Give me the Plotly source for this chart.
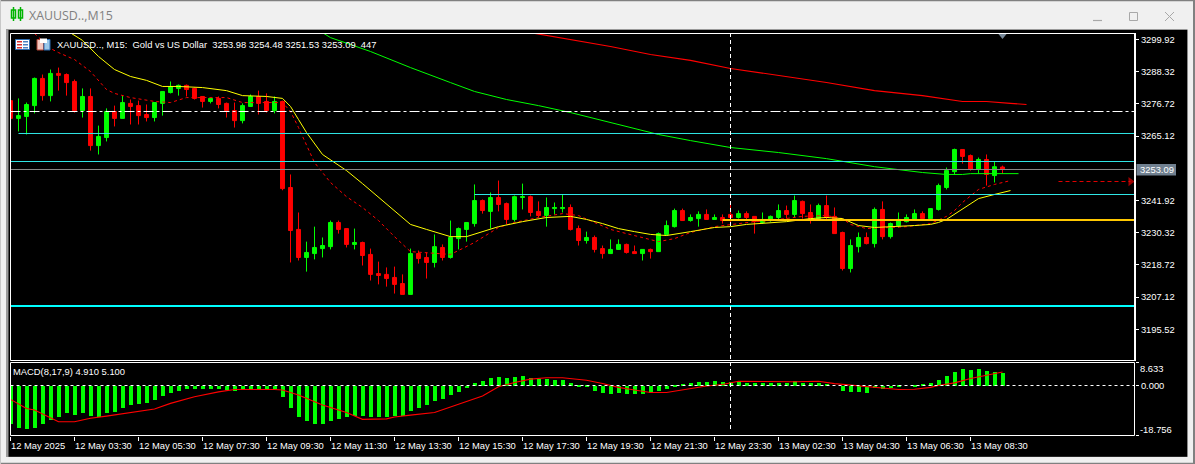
import plotly.graph_objects as go

W, H = 1195, 464
FONT = "Liberation Sans"

opens = [3277.9,3271.5,3272.2,3276.1,3285.9,3279.7,3287.7,3287.3,3284.8,3274.3,3279.4,3261.7,3264.6,3274.0,3271.5,3276.9,3276.1,3272.9,3271.8,3276.9,3280.8,3282.3,3283.4,3282.3,3279.4,3277.6,3278.7,3276.9,3274.3,3270.7,3275.8,3279.4,3277.6,3274.3,3277.6,3246.6,3231.5,3221.4,3222.8,3224.6,3225.3,3234.0,3231.8,3226.1,3226.8,3222.5,3215.6,3215.3,3214.2,3212.0,3208.1,3222.8,3221.4,3219.6,3225.0,3221.4,3228.2,3231.5,3233.6,3241.9,3238.0,3243.0,3240.8,3235.1,3243.0,3243.3,3238.0,3236.5,3239.0,3239.0,3239.4,3231.8,3227.5,3228.6,3224.6,3222.8,3224.3,3226.1,3223.5,3222.8,3224.3,3223.5,3229.7,3232.5,3238.3,3234.7,3235.4,3236.9,3235.1,3235.8,3236.9,3235.8,3237.2,3236.2,3234.0,3234.7,3235.8,3238.3,3236.9,3241.6,3237.6,3235.4,3240.1,3236.2,3230.4,3217.4,3225.3,3228.6,3226.4,3238.7,3228.9,3232.9,3234.3,3235.1,3237.2,3235.4,3238.7,3246.6,3252.3,3260.3,3258.1,3253.1,3256.7,3250.9,3253.98]
highs = [3277.9,3278.7,3277.2,3286.2,3287.3,3289.1,3289.8,3287.7,3285.5,3282.3,3282.3,3268.9,3275.1,3276.1,3279.7,3278.3,3277.9,3276.5,3277.2,3281.2,3284.8,3283.7,3283.7,3282.6,3279.4,3279.0,3279.4,3277.2,3277.2,3276.9,3280.1,3281.5,3280.5,3279.4,3277.9,3251.3,3237.6,3227.1,3232.5,3228.6,3234.7,3234.7,3231.8,3231.8,3227.1,3224.6,3219.9,3217.8,3218.1,3215.3,3224.6,3223.9,3223.2,3229.7,3226.1,3234.7,3232.2,3234.0,3247.7,3242.3,3244.8,3249.1,3241.2,3243.7,3248.0,3243.7,3241.6,3243.0,3241.2,3244.1,3240.5,3232.9,3230.7,3229.3,3225.7,3227.9,3227.9,3226.4,3225.7,3224.3,3224.6,3230.4,3234.7,3239.0,3239.0,3236.9,3238.0,3238.7,3236.9,3236.9,3241.6,3238.3,3238.0,3236.2,3237.6,3236.5,3240.5,3240.1,3243.7,3241.9,3240.5,3240.8,3243.7,3239.4,3230.7,3227.9,3230.4,3230.4,3239.4,3241.6,3234.0,3237.6,3236.9,3238.7,3238.0,3239.0,3248.0,3253.8,3260.6,3260.3,3258.5,3257.4,3258.5,3255.9,3254.48]
lows = [3271.5,3266.8,3265.7,3273.3,3277.9,3277.6,3281.5,3279.7,3273.6,3271.8,3259.9,3258.5,3263.2,3268.6,3271.5,3269.3,3269.3,3270.4,3270.4,3272.5,3280.5,3279.7,3279.4,3278.3,3275.4,3276.9,3275.1,3271.8,3268.2,3269.7,3275.8,3272.9,3273.6,3273.3,3245.6,3219.6,3220.3,3216.3,3220.7,3221.4,3224.3,3230.0,3225.0,3224.3,3218.5,3213.1,3211.7,3210.9,3208.4,3208.1,3208.1,3219.2,3213.8,3217.8,3220.3,3221.0,3224.3,3227.1,3232.5,3237.2,3231.8,3238.0,3233.3,3234.3,3238.7,3236.2,3235.8,3232.5,3236.9,3237.6,3231.1,3225.7,3226.4,3223.2,3221.0,3222.8,3224.3,3222.8,3222.8,3220.3,3221.0,3223.5,3229.3,3232.2,3234.7,3234.3,3232.5,3235.1,3235.1,3233.6,3233.3,3235.4,3235.1,3230.0,3233.6,3234.3,3235.1,3235.4,3235.8,3235.4,3233.6,3235.1,3235.1,3230.0,3216.7,3216.0,3223.2,3226.1,3225.0,3227.9,3228.2,3232.2,3234.0,3234.7,3235.1,3235.4,3238.3,3245.9,3251.3,3255.2,3252.7,3251.6,3247.3,3248.4,3251.53]
closes = [3271.5,3272.5,3276.5,3285.9,3279.7,3287.7,3287.0,3284.4,3274.3,3279.4,3261.7,3265.0,3274.0,3271.5,3277.2,3275.8,3272.5,3271.8,3277.2,3281.2,3283.0,3283.4,3281.9,3278.7,3277.6,3278.7,3276.5,3274.3,3270.7,3276.1,3279.4,3276.9,3274.3,3277.6,3246.2,3231.1,3221.4,3223.2,3225.0,3225.7,3234.0,3231.5,3226.1,3226.8,3222.1,3215.3,3214.9,3213.8,3211.7,3208.1,3222.8,3221.0,3219.6,3225.3,3221.4,3228.6,3231.8,3234.0,3241.9,3238.3,3243.0,3240.5,3235.1,3243.3,3243.3,3237.6,3236.5,3239.4,3239.4,3239.4,3231.5,3227.5,3228.6,3224.3,3222.8,3224.3,3226.1,3223.2,3222.8,3224.3,3223.5,3230.0,3232.9,3238.3,3234.7,3235.8,3236.9,3235.1,3235.8,3234.7,3235.8,3237.2,3235.8,3234.3,3234.7,3236.2,3238.3,3236.9,3241.9,3237.2,3235.1,3240.1,3235.8,3230.0,3217.4,3225.7,3228.6,3226.4,3238.7,3228.9,3233.6,3235.1,3235.8,3237.2,3235.4,3239.0,3247.3,3252.7,3260.3,3257.8,3253.1,3256.7,3251.3,3254.1,3253.09]
bars = list(range(len(closes)))

yellow_bars = [7,9,11,13,15,17,19,21,24,27,29,32,34,35,36,37,39,42,44,46,49,50,52,55,57,59,61,64,67,70,72,74,76,78,80,82,83,85,88,90,92,95,97,100,102,104,106,108,111,113,115,116,117,118,119,121,123,125]
yellow_ma = [3303.2,3299.6,3293.8,3289.1,3286.6,3285.2,3283.0,3283.0,3282.6,3281.5,3279.7,3279.4,3278.7,3275.8,3271.1,3266.4,3258.5,3252.7,3248.0,3243.0,3235.8,3233.3,3231.5,3228.9,3228.9,3230.7,3232.5,3234.3,3235.8,3236.2,3235.1,3233.6,3231.8,3230.7,3229.7,3229.3,3229.7,3230.7,3232.2,3232.5,3233.3,3234.0,3234.3,3235.4,3235.8,3235.4,3232.9,3232.2,3232.5,3232.9,3233.3,3234.0,3235.1,3236.9,3239.0,3242.6,3244.1,3245.5]

dashed_bars = [3,5,6,8,10,12,13,15,18,20,22,25,27,29,32,34,35,36,38,40,42,44,46,48,50,52,55,56,58,61,63,66,69,71,73,75,77,79,81,83,85,88,91,93,95,99,102,104,105,107,110,112,115,117,118,119,121,123,125]
dashed_ma = [3302.1,3296.7,3295.2,3292.7,3288.4,3281.9,3280.5,3279.0,3277.6,3277.2,3279.0,3279.0,3279.0,3277.2,3277.2,3277.2,3274.0,3268.2,3255.6,3248.4,3243.3,3239.4,3234.7,3228.9,3223.5,3223.2,3222.5,3223.9,3226.8,3232.2,3234.0,3235.8,3237.2,3236.5,3234.0,3231.5,3230.0,3228.6,3227.1,3228.2,3230.4,3232.5,3233.6,3234.3,3234.7,3236.2,3236.5,3235.4,3233.3,3231.8,3232.2,3232.5,3233.6,3236.2,3238.3,3241.2,3245.9,3247.7,3249.1]

green_bars = [39,40,45,50,55,58,62,66,70,75,79,81,85,90,96,102,108,114,117,119,120,126]
green_ma = [3302.4,3300.6,3295.6,3289.8,3284.4,3281.2,3278.3,3276.1,3273.6,3270.0,3267.1,3265.7,3263.5,3261.0,3259.2,3257.0,3254.1,3252.0,3251.3,3251.3,3251.6,3251.6]

red_bars = [65,70,75,80,85,90,96,102,108,114,119,122,125,127]
red_ma = [3302.4,3299.9,3297.4,3294.5,3292.4,3289.5,3287.0,3284.4,3281.5,3279.7,3277.6,3277.6,3276.9,3276.5]

macd_hist = [-14.2,-15.9,-16.3,-15.6,-14.4,-12.6,-11.5,-10.3,-10.7,-10.0,-11.1,-11.5,-10.3,-9.6,-8.1,-7.0,-6.6,-6.2,-5.1,-3.6,-2.5,-1.7,-1.0,-1.0,-1.0,-1.0,-1.0,-1.4,-1.9,-1.5,-1.0,-1.0,-1.0,-1.0,-4.0,-8.1,-11.5,-13.3,-14.4,-14.4,-13.3,-12.2,-11.5,-11.1,-11.1,-11.5,-11.5,-11.5,-11.1,-11.1,-9.2,-8.1,-7.0,-5.5,-4.7,-3.2,-2.1,-0.4,1.2,2.0,3.1,3.5,3.1,3.5,3.9,3.1,2.7,2.7,2.4,2.4,1.1,0.1,0.4,-1.7,-2.5,-2.9,-2.5,-2.9,-2.9,-2.9,-2.5,-1.7,-1.0,0.5,0.9,1.2,1.6,1.6,2.0,1.6,1.6,2.0,1.2,1.2,1.2,1.2,1.2,1.2,2.0,1.2,1.2,1.2,0.9,0.0,-1.7,-2.1,-2.1,-2.5,-0.6,-1.1,-0.6,0.1,0.0,0.5,0.9,1.2,2.4,3.9,5.4,6.5,6.1,6.5,5.7,5.4,4.91]

signal_bars = [0,2,3,5,6,8,10,12,15,18,20,23,26,28,33,34,36,39,42,44,47,48,50,53,56,59,61,63,65,67,69,72,74,76,78,80,82,84,87,89,91,98,101,103,105,106,109,111,113,115,116,118,120,122,124]
signal_line = [-5.2,-8.6,-9.2,-12.3,-13.6,-13.6,-12.3,-11.5,-10.1,-8.8,-6.7,-4.2,-2.4,-1.5,-1.5,-1.7,-3.6,-7.3,-10.1,-12.7,-12.5,-11.8,-11.1,-10.1,-7.0,-3.9,-0.5,1.1,2.4,2.9,2.9,2.0,0.75,-0.7,-1.7,-2.6,-2.6,-1.7,-0.2,0.4,1.6,1.4,1.6,0.7,0.1,0.0,-1.1,-1.5,-1.4,-0.7,0.0,1.0,2.6,3.9,5.1]

price_ticks = [3299.92,3288.32,3276.72,3265.12,3241.92,3230.32,3218.72,3207.12,3195.52]
time_tick_bars = list(range(0, 121, 8))
time_labels = ["12 May 2025","12 May 03:30","12 May 05:30","12 May 07:30","12 May 09:30","12 May 11:30","12 May 13:30","12 May 15:30","12 May 17:30","12 May 19:30","12 May 21:30","12 May 23:30","13 May 02:30","13 May 04:30","13 May 06:30","13 May 08:30"]

level_dashdot = 3273.98
level_close = 3253.09
level_thin = [(1, 3266.06), (0, 3255.97), (58, 3244.08)]
level_gold = (89, 3234.89)
level_thick = 3203.91
forecast_price = 3248.76
forecast_bars = [131, 140]
crosshair_bar = 90

MACD_MIN, MACD_MAX = -18.756, 8.633
BAR_RANGE = [0, 140.5]

def X(px):
    return px / W

def Y(py):
    return 1 - py / H

def rect(x0, y0, x1, y1, fill=None, line=None, lw=1, layer="above"):
    return dict(type="rect", xref="paper", yref="paper", x0=X(x0), x1=X(x1), y0=Y(y0), y1=Y(y1),
                fillcolor=fill if fill else "rgba(0,0,0,0)",
                line=dict(color=line if line else "rgba(0,0,0,0)", width=lw if line else 0), layer=layer)

def seg(x0, y0, x1, y1, color, lw=1, dash="solid", layer="above"):
    return dict(type="line", xref="paper", yref="paper", x0=X(x0), x1=X(x1), y0=Y(y0), y1=Y(y1),
                line=dict(color=color, width=lw, dash=dash), layer=layer)

def level(x0, price, color, lw=1, dash="solid"):
    return dict(type="line", xref="x", yref="y", x0=x0, x1=BAR_RANGE[1], y0=price, y1=price,
                line=dict(color=color, width=lw, dash=dash), layer="above")

CYAN = "#2fe6e6"
shapes = [
    rect(0, 0, W, H, fill="#f0f0f0", layer="below"),
    rect(0, 0, W, 1.2, fill="#808080", layer="below"),
    rect(0, 462.7, W, H, fill="#808080", layer="below"),
    rect(1193, 0, W, H, fill="#808080", layer="below"),
    rect(0, 0, 1, H, fill="#c8c8c8", layer="below"),
    rect(6, 29, 1187.5, 457, fill="#9a9a9a", layer="below"),
    rect(8.5, 30, 1187.3, 456.8, fill="#000000", layer="below"),
    seg(13.5, 7, 13.5, 21, "#00b400", lw=1.5), rect(11.5, 10, 15.5, 18, line="#00b400", lw=1.5),
    seg(20.5, 7, 20.5, 21, "#00b400", lw=1.5), rect(18.5, 10, 22.5, 18, line="#00b400", lw=1.5),
    seg(1093, 20.5, 1102, 20.5, "#a8a8a8", lw=1.2),
    rect(1129.5, 12.5, 1137.5, 20.5, line="#a8a8a8"),
    seg(1165, 12, 1174, 21, "#a8a8a8"), seg(1174, 12, 1165, 21, "#a8a8a8"),
    rect(15.5, 39.5, 29.5, 49.5, fill="#ffffff", line="#2f6db0"),
    rect(17, 41, 22, 42.5, fill="#d83030"), rect(17, 44, 22, 45.5, fill="#d83030"), rect(17, 47, 22, 48.5, fill="#d83030"),
    rect(23, 41, 28, 42.5, fill="#4a80c0"), rect(23, 44, 28, 45.5, fill="#4a80c0"), rect(23, 47, 28, 48.5, fill="#4a80c0"),
    rect(37, 39.5, 43.5, 50, fill="#f5c8c0", line="#b04030"),
    rect(44, 39.5, 50, 50, fill="#9cc8ea", line="#2f6db0"),
    rect(40, 38.5, 47, 43, fill="#ffffff"),
    dict(type="path", xref="paper", yref="paper",
         path=f"M {X(998)} {Y(33.5)} L {X(1007)} {Y(33.5)} L {X(1002.5)} {Y(39)} Z",
         fillcolor="#778899", line=dict(width=0), layer="above"),
    level(BAR_RANGE[0], level_dashdot, "#ffffff", dash="10px,3px,3px,3px"),
    level(BAR_RANGE[0], level_close, "#8a8a8a"),
    level(level_gold[0], level_gold[1], "#ffc800", lw=2),
    level(BAR_RANGE[0], level_thick, "#00ffff", lw=2),
]
shapes += [level(a, b, CYAN) for a, b in level_thin]
shapes += [
    seg(730.5, 33, 730.5, 432, "#ffffff", dash="4px,3px"),
    rect(10.5, 33.5, 1134.5, 360.5, line="#ffffff"),
    rect(10.5, 362.5, 1134.5, 435.5, line="#ffffff"),
    seg(1135, 33, 1135, 361, "#ffffff", lw=2),
    dict(type="line", xref="x2", yref="y2", x0=BAR_RANGE[0], x1=BAR_RANGE[1], y0=0, y1=0,
         line=dict(color="#ffffff", width=1, dash="3px,3px"), layer="above"),
    rect(1136.5, 164, 1176, 175.5, fill="#708090"),
]

fig = go.Figure()
fig.add_trace(go.Candlestick(
    x=bars, open=opens, high=highs, low=lows, close=closes, xaxis="x", yaxis="y", whiskerwidth=0,
    increasing=dict(line=dict(color="#00ff00", width=1), fillcolor="#00ff00"),
    decreasing=dict(line=dict(color="#ff0000", width=1), fillcolor="#ff0000"),
    hoverinfo="skip", showlegend=False))
fig.add_trace(go.Scatter(x=green_bars, y=green_ma, mode="lines", line=dict(color="#00ff00", width=1), xaxis="x", yaxis="y", showlegend=False))
fig.add_trace(go.Scatter(x=red_bars, y=red_ma, mode="lines", line=dict(color="#ff0000", width=1.1), xaxis="x", yaxis="y", showlegend=False))
fig.add_trace(go.Scatter(x=dashed_bars, y=dashed_ma, mode="lines", line=dict(color="#ff0000", width=1, dash="3px,3px"), xaxis="x", yaxis="y", showlegend=False))
fig.add_trace(go.Scatter(x=yellow_bars, y=yellow_ma, mode="lines", line=dict(color="#ffff00", width=1), xaxis="x", yaxis="y", showlegend=False))
fig.add_trace(go.Scatter(x=forecast_bars, y=[forecast_price, forecast_price], mode="lines+markers",
                         line=dict(color="#e00000", width=1, dash="4px,3px"),
                         marker=dict(symbol=["line-ns", "triangle-right"], size=[0.1, 8], color="#e00000", line=dict(width=0)),
                         xaxis="x", yaxis="y", showlegend=False))
fig.add_trace(go.Bar(x=bars, y=macd_hist, width=0.5, marker=dict(color="#00ff00", line=dict(width=0)), xaxis="x2", yaxis="y2", showlegend=False))
fig.add_trace(go.Scatter(x=signal_bars, y=signal_line, mode="lines", line=dict(color="#ff0000", width=1.1), xaxis="x2", yaxis="y2", showlegend=False))

TXT = dict(family=FONT, size=9.4, color="#ffffff")
def note(px, py, text, font=TXT, anchor="left"):
    return dict(xref="paper", yref="paper", x=X(px), y=Y(py), text=text, showarrow=False,
                xanchor=anchor, yanchor="middle", font=font, borderpad=0, borderwidth=0)

annotations = [
    note(29, 15, "XAUUSD..,M15", dict(family="Open Sans", size=12.4, color="#808080")),
    note(56.5, 44.5, "XAUUSD.., M15:  Gold vs US Dollar  3253.98 3254.48 3251.53 3253.09  447"),
    note(13, 371, "MACD(8,17,9) 4.910 5.100"),
    note(1139.5, 169.5, f"{level_close:.2f}"),
    note(1139.5, 368, f"{MACD_MAX:.3f}"),
    note(1139.5, 429.5, f"{MACD_MIN:.3f}"),
]
for b, t in zip(time_tick_bars, time_labels):
    annotations.append(dict(xref="x2", yref="paper", x=b, y=Y(445), text=t, showarrow=False,
                            xanchor="left", yanchor="middle", font=TXT, borderpad=0, xshift=-1))

fig.update_layout(
    width=W, height=H, margin=dict(l=0, r=0, t=0, b=0), autosize=False,
    paper_bgcolor="#f0f0f0", plot_bgcolor="rgba(0,0,0,0)", showlegend=False, bargap=0,
    shapes=shapes, annotations=annotations, font=dict(family=FONT, size=9.4, color="#ffffff"),
    xaxis=dict(domain=[X(10.5), X(1134.5)], range=BAR_RANGE, anchor="y", matches="x2", showticklabels=False,
               showgrid=False, zeroline=False, ticks="", rangeslider=dict(visible=False)),
    yaxis=dict(domain=[Y(360.5), Y(33.5)], range=[3184.28, 3302.08], side="right", anchor="x", showgrid=False, zeroline=False,
               tickmode="array", tickvals=price_ticks, ticktext=[f"{v:.2f}" for v in price_ticks],
               ticks="outside", ticklen=3.5, tickwidth=1, tickcolor="#ffffff", tickfont=TXT),
    xaxis2=dict(domain=[X(10.5), X(1134.5)], range=BAR_RANGE, anchor="y2", showgrid=False, zeroline=False,
                tickmode="array", tickvals=time_tick_bars, ticktext=[""] * len(time_tick_bars),
                ticks="outside", ticklen=4, tickwidth=1, tickcolor="#ffffff"),
    yaxis2=dict(domain=[Y(435.5), Y(362.5)], range=[MACD_MIN, MACD_MAX], side="right", anchor="x2", showgrid=False, zeroline=False,
                tickmode="array", tickvals=[MACD_MAX, 0, MACD_MIN], ticktext=["", "0.000", ""],
                ticks="outside", ticklen=3.5, tickwidth=1, tickcolor="#ffffff", tickfont=TXT),
)

fig.write_html("out.html", config=dict(displayModeBar=False),
               post_script="document.body.style.margin='0';document.body.style.overflow='hidden';")
